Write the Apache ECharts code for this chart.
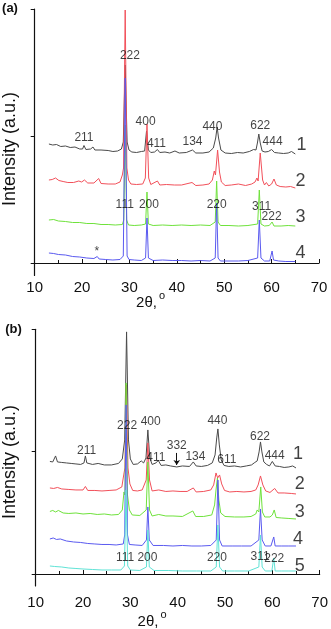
<!DOCTYPE html>
<html>
<head>
<meta charset="utf-8">
<script src="https://cdn.jsdelivr.net/npm/echarts/dist/echarts.min.js"></script>
<style>
  html, body { margin: 0; padding: 0; background: #fff; }
  #chart { width: 331px; height: 629px; }
</style>
</head>
<body>
<div id="chart"></div>
<script>
// ---- panel (a) patterns: [2theta, intensity a.u.] ----
var a1 = [[13.0,119],[13.8,118],[14.6,118.5],[15.5,116.5],[16.5,117],[17.5,115.5],[18.5,116],[19.5,114],[20.1,114],[20.4,117.5],[20.8,113.5],[21.8,114],[22.3,116],[22.7,113],[24,113],[25.5,112.5],[26.5,111.5],[27.5,112],[28.3,114],[28.7,121],[29.1,198],[29.5,121],[29.9,113],[30.5,111],[31.5,110.5],[32.5,111.5],[33.2,112],[33.6,132],[34.0,113],[34.5,110.5],[35.3,111],[35.9,113.5],[36.4,110.5],[37.5,111],[38.5,110],[39.6,112],[40.5,110],[42,110.5],[43.3,113],[44,110],[45.5,110],[46.8,111],[47.7,115],[48.2,125],[48.5,136],[48.8,125],[49.3,113],[50.2,110],[51.5,109.5],[52.8,110.5],[54,110],[55.3,111.5],[56.2,113.5],[56.7,113],[57.0,120],[57.3,129],[57.6,120],[58.0,112],[58.6,111],[59.3,111.5],[60.0,113.5],[60.6,110.5],[61.5,110],[62.5,109.5],[63.5,110],[64.2,111.5],[65.0,109]];
var a2 = [[13.0,83],[13.7,83.5],[14.4,85],[15.1,82.5],[16.0,81.5],[17.0,80.5],[18.2,80.5],[19.3,82],[19.9,81],[20.5,83],[21.2,80],[22.5,80],[23.5,84.5],[24.0,79.5],[25.5,79],[27.0,79],[28.0,81],[28.5,88],[28.75,95],[29.1,253],[29.45,95],[29.8,83],[30.3,79],[31.5,78.5],[32.8,79],[33.35,85],[33.7,139],[34.05,85],[34.5,78.5],[35.9,82],[36.4,78],[37.8,78.5],[39.5,78],[41,78],[43.2,80.5],[44,77.5],[45.5,78],[46.8,79],[47.5,83],[47.9,92],[48.15,88],[48.6,113],[49.0,91],[49.4,81],[50.2,77.5],[51.5,78],[53.0,79],[54.5,77.5],[55.8,79],[56.5,81],[56.9,85],[57.15,82],[57.6,110],[58.1,83],[58.5,78],[58.9,80.5],[59.4,77],[60.0,79],[60.5,84],[61.0,78],[61.8,76.5],[63.0,76],[64.0,76.5],[65.0,75]];
var a3 = [[13.0,43],[14.0,43.5],[15.0,42],[16.5,41.5],[18.0,40.5],[19.5,40.5],[21.0,39.5],[22.5,39.5],[24.0,38.5],[25.5,38.5],[27.0,38],[28.5,38.5],[28.8,43],[29.1,138],[29.4,43],[29.8,38],[31.0,37.5],[32.5,38],[33.4,39],[33.7,71],[34.0,39],[35.0,37.5],[37.0,38],[39.0,37.5],[41.0,38],[43.0,37.5],[45.0,38],[47.0,37.5],[48.1,41],[48.4,82],[48.7,41],[49.2,37.5],[51.0,37.5],[53.0,37],[55.0,37.5],[57.05,39],[57.4,73],[57.75,39],[58.5,37],[59.5,37.5],[60.1,41],[60.5,37],[62.0,37],[63.5,37.5],[65.0,37]];
var a4 = [[13.0,10],[14.0,9.5],[15.0,8.5],[16.5,8],[18.0,6.5],[19.5,6],[21.0,5],[22.5,4.5],[23.2,6.5],[23.6,4],[25.0,3.5],[26.5,3],[28.0,3.5],[28.7,7],[29.1,185],[29.5,7],[29.9,3.5],[31.0,3],[32.5,2.5],[33.4,5],[33.7,45],[34.0,5],[35.0,2.5],[37.0,3],[39.0,2.5],[41.0,2.5],[43.0,2],[45.0,2.5],[47.0,2],[48.1,5],[48.4,60],[48.7,5],[49.2,2],[51.0,2],[53.0,2],[55.0,2.5],[57.05,5],[57.4,43],[57.75,5],[58.5,2],[59.6,2],[59.9,4],[60.1,12],[60.4,3],[61.5,2],[63.0,1.5],[65.0,1.5]];

// ---- panel (b) patterns ----
var b1 = [[13.0,112.5],[13.6,112],[14.2,118],[14.6,112],[15.5,111.5],[16.5,111],[17.5,110.5],[18.5,110],[19.5,109.5],[20.2,111],[20.5,118],[20.8,111],[22.0,109.5],[23.2,110.5],[24.5,109],[26.0,109],[27.5,110.5],[28.3,115],[28.8,134],[29.2,242],[29.6,134],[30.0,115],[30.6,109.5],[31.5,110],[32.3,113],[32.8,111],[33.3,116],[33.7,144],[34.1,116],[34.6,109.5],[35.4,111],[35.9,113.5],[36.5,108.5],[37.5,109],[38.5,108],[39.8,107],[41.0,108],[42.5,107.5],[43.3,112],[43.9,108],[45.0,107.5],[46.3,108.5],[47.3,111],[47.9,119],[48.25,136],[48.5,145],[48.8,129],[49.2,114],[49.8,108.5],[50.8,107.5],[52.0,108],[53.3,107],[54.5,108],[55.6,109],[56.3,111.5],[56.8,113],[57.2,122],[57.5,132],[57.8,122],[58.2,112],[58.8,109.5],[59.4,108],[60.0,112.5],[60.6,108],[61.5,107.5],[62.5,106.5],[63.5,107],[64.3,108],[65.0,106]];
var b2 = [[13.0,86],[13.8,85.5],[14.6,86.5],[15.5,85],[17.0,84.5],[18.5,84],[20.0,84],[20.5,87.5],[21.0,83.5],[22.5,83.5],[24.0,83],[25.5,83.5],[27.0,84],[28.2,87],[28.6,99],[28.85,106],[29.15,189],[29.5,106],[29.9,90],[30.5,83.5],[31.5,83],[32.5,84],[33.35,94],[33.7,131],[34.05,94],[34.6,83],[36.0,84],[37.5,82.5],[39.0,83],[40.5,82.5],[42.0,82.5],[43.3,86],[43.9,82],[45.5,82.5],[47.0,84],[47.6,89],[48.1,101],[48.45,96],[48.85,99],[49.3,90],[49.9,83.5],[51.0,82],[52.5,82.5],[54.0,82],[55.5,82.5],[56.5,84],[57.0,89],[57.5,98],[58.0,89],[58.6,83],[59.5,81.5],[60.5,85.5],[61.2,81],[62.5,81],[64.0,80.5],[65.0,80]];
var b3 = [[13.0,62.5],[13.6,63.5],[14.2,62],[14.8,63.5],[15.8,61],[17.0,60.5],[18.5,61],[20.0,60],[21.5,60.5],[23.0,59.5],[24.5,60],[26.0,59],[27.5,59.5],[28.3,64],[28.65,82],[28.85,79],[29.1,191],[29.4,79],[29.8,64],[30.4,59],[32.0,58.5],[33.35,64],[33.7,112],[34.05,64],[34.6,58],[36.0,59.5],[37.5,58],[39.0,58],[41.0,57.5],[43.2,63],[43.8,57.5],[45.5,57.5],[47.2,59],[47.8,69],[48.1,84],[48.4,96],[48.7,74],[49.1,61],[50.0,57.5],[52.0,57],[54.0,57],[55.5,57.5],[56.5,60],[56.8,64],[57.15,62],[57.55,87],[57.9,62],[58.4,57],[59.5,57],[60.0,59],[60.4,64],[60.8,56.5],[62.0,56],[63.5,55.5],[65.0,55]];
var b4 = [[13.0,35],[13.7,36],[14.4,34.5],[15.2,35],[16.5,33],[18.0,32],[19.5,31.5],[21.0,30.5],[22.5,30],[24.0,29.5],[25.5,29.5],[27.0,29],[28.5,30],[28.8,39],[29.1,169],[29.4,39],[29.8,29.5],[31.0,29],[32.5,28.5],[33.4,34],[33.7,67],[34.0,34],[34.8,28.5],[37.0,28.5],[39.0,28],[41.0,28.5],[43.0,28],[45.0,28],[47.0,28.5],[48.15,34],[48.5,94],[48.85,34],[49.4,28],[51.5,28],[53.5,28],[55.5,28],[57.15,34],[57.5,65],[57.85,34],[58.5,28],[59.7,28],[60.3,37],[60.6,28],[62.0,28],[63.5,28],[65.0,28]];
var b5 = [[13.0,8],[14.0,7.5],[15.5,7],[17.0,6],[18.5,5.5],[20.0,5],[22.0,4.5],[24.0,4],[26.0,4],[28.0,4],[28.75,8],[29.1,84],[29.45,8],[30.0,4],[32.0,3.5],[33.4,7],[33.7,44],[34.0,7],[35.0,3.5],[38.0,3.5],[41.0,3],[44.0,3],[47.0,3],[48.15,7],[48.5,49],[48.85,7],[49.5,3],[52.0,3],[55.0,3],[57.15,7],[57.5,39],[57.85,7],[58.5,3],[59.9,3],[60.3,16],[60.6,3],[62.0,3],[63.5,3],[65.0,3]];

// ---- annotations [text, 2theta, intensity] ----
var peakLabelsA = [['211',20.4,125],['222',30.1,207],['400',33.4,141],['411',35.7,119],['134',43.3,121],['440',47.5,136],['622',57.6,137],['444',60.2,121],
  ['111',29.0,58],['200',34.1,58],['220',48.4,58],['311',57.9,56],['222',60.0,46],['*',23.1,11]];
var curveNumsA = [['1',66.3,118],['2',66.1,82],['3',66.1,46],['4',66.1,10]];
var peakLabelsB = [['211',20.75,123],['222',29.3,148],['400',34.3,152],['411',35.4,116],['332',39.8,128],['134',43.75,117],['440',48.4,153],['611',50.4,114],['622',57.4,137],['444',60.5,118],
  ['111',28.9,16],['200',33.6,16],['220',48.3,16],['311',57.4,17],['222',60.4,15]];
var curveNumsB = [['1',65.4,120],['2',65.8,90],['3',65.8,62],['4',65.4,35],['5',65.8,8]];
var arrowB = [[39.8,121],[39.8,109]];

var xTicks = [10, 20, 30, 40, 50, 60, 70];
var yTicksA = [0, 127, 254];
var yTicksB = [0, 122.3, 244.6];

var colors = ['#4a4a4a', '#f2505a', '#6fe23c', '#5a5af0', '#5fe3d6'];
var FONT = "'Liberation Sans', Arial, sans-serif";

var chart = echarts.init(document.getElementById('chart'));

function curve(data, color, gi) {
  return {
    type: 'line', data: data, xAxisIndex: gi, yAxisIndex: gi,
    symbol: 'none', lineStyle: { color: color, width: 1 }, silent: true
  };
}

function textLayer(items, gi, size) {
  return {
    type: 'scatter', xAxisIndex: gi, yAxisIndex: gi, z: 5, silent: true,
    symbolSize: 1, itemStyle: { color: 'rgba(0,0,0,0)' },
    data: items.map(function (d) { return [d[1], d[2], d[0]]; }),
    label: {
      show: true, position: 'inside', color: '#111', fontSize: size, fontFamily: FONT,
      formatter: function (p) { return p.data[2]; }
    }
  };
}

function xAx(gi, margin) {
  return {
    type: 'value', gridIndex: gi, min: xTicks[0], max: xTicks[xTicks.length - 1], interval: 10,
    axisLine: { lineStyle: { color: '#111', width: 1.2 } },
    axisTick: { inside: true, length: 4, lineStyle: { color: '#111' } },
    minorTick: { show: true, splitNumber: 2, length: 3, lineStyle: { color: '#111' } },
    axisLabel: { color: '#111', fontSize: 15, fontFamily: FONT, margin: margin },
    splitLine: { show: false }
  };
}

function yAx(gi, ticks, min) {
  return {
    type: 'value', gridIndex: gi, min: min, max: ticks[ticks.length - 1],
    axisLine: { show: true, lineStyle: { color: '#111', width: 1.2 } },
    axisTick: { show: true, length: 4, customValues: ticks, lineStyle: { color: '#111' } },
    axisLabel: { show: false },
    splitLine: { show: false }
  };
}

var series = [
  curve(a1, colors[0], 0), curve(a2, colors[1], 0), curve(a3, colors[2], 0), curve(a4, colors[3], 0),
  curve(b1, colors[0], 1), curve(b2, colors[1], 1), curve(b3, colors[2], 1), curve(b4, colors[3], 1), curve(b5, colors[4], 1),
  textLayer(peakLabelsA, 0, 12), textLayer(curveNumsA, 0, 18),
  textLayer(peakLabelsB, 1, 12), textLayer(curveNumsB, 1, 18)
];
series[4].markLine = {
  silent: true, symbol: ['none', 'arrow'], symbolSize: 5, label: { show: false },
  lineStyle: { color: '#111', width: 1, type: 'solid' },
  data: [[{ coord: arrowB[0] }, { coord: arrowB[1] }]]
};

var option = {
  animation: false,
  backgroundColor: '#fff',
  grid: [
    { left: 34.7, right: 12, top: 9, height: 266.5 },
    { left: 35.7, right: 9, top: 329.3, height: 256.7 }
  ],
  xAxis: [xAx(0, 5), xAx(1, 9)],
  yAxis: [yAx(0, yTicksA, -12.5), yAx(1, yTicksB, -12)],
  graphic: [
    { type: 'text', x: 10, y: 8, style: { text: '(a)', font: 'bold 13px ' + FONT, fill: '#111', textAlign: 'center', textVerticalAlign: 'middle' } },
    { type: 'text', x: 13.5, y: 329.5, style: { text: '(b)', font: 'bold 13px ' + FONT, fill: '#111', textAlign: 'center', textVerticalAlign: 'middle' } },
    { type: 'text', x: 10, y: 149, rotation: Math.PI / 2, style: { text: 'Intensity (a.u.)', font: '18px ' + FONT, fill: '#111', textAlign: 'center', textVerticalAlign: 'middle' } },
    { type: 'text', x: 10, y: 462, rotation: Math.PI / 2, style: { text: 'Intensity (a.u.)', font: '18px ' + FONT, fill: '#111', textAlign: 'center', textVerticalAlign: 'middle' } },
    { type: 'text', x: 146.5, y: 303, style: { text: '2θ,', font: '15px ' + FONT, fill: '#111', textAlign: 'center', textVerticalAlign: 'middle' } },
    { type: 'text', x: 162, y: 296, style: { text: 'o', font: '11px ' + FONT, fill: '#111', textAlign: 'center', textVerticalAlign: 'middle' } },
    { type: 'text', x: 148, y: 621.5, style: { text: '2θ,', font: '15px ' + FONT, fill: '#111', textAlign: 'center', textVerticalAlign: 'middle' } },
    { type: 'text', x: 163.5, y: 614.5, style: { text: 'o', font: '11px ' + FONT, fill: '#111', textAlign: 'center', textVerticalAlign: 'middle' } }
  ],
  series: series
};

chart.setOption(option);
</script>
</body>
</html>
